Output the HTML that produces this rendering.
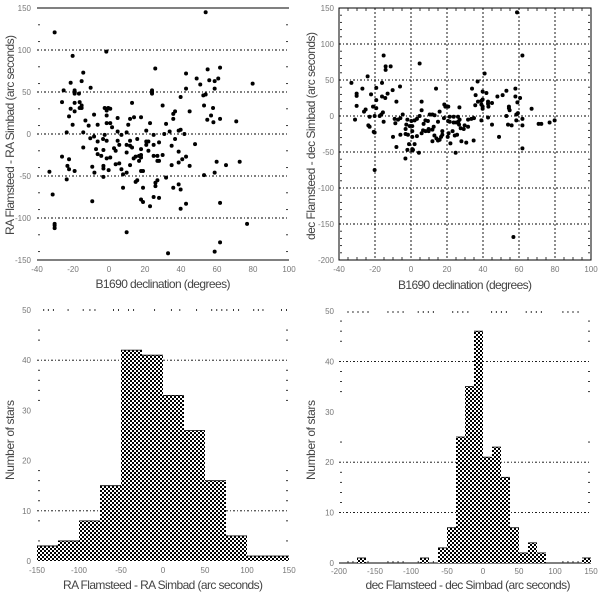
<!DOCTYPE html>
<html lang="en">
<head>
<meta charset="utf-8">
<title>Flamsteed vs Simbad position differences</title>
<style>
html,body{margin:0;padding:0;background:#fff}
svg{display:block}
text{font-family:"Liberation Sans",sans-serif}
.title{font-size:12px;fill:#444}
.tick{font-size:8px;fill:#777}
</style>
</head>
<body>
<svg id="figure" xmlns="http://www.w3.org/2000/svg" width="600" height="593" viewBox="0 0 600 593">
<defs>
<pattern id="dither" width="4" height="4" patternUnits="userSpaceOnUse">
<rect width="4" height="4" fill="#000"/>
<rect x="0" y="0" width="2" height="2" fill="#fff"/>
<rect x="2" y="2" width="2" height="2" fill="#fff"/>
</pattern>
</defs>
<rect width="600" height="593" fill="#fff"/>
<g id="panel-a"></g>
<g id="panel-b"></g>
<g id="panel-c"></g>
<g id="panel-d"></g>
<text class="title" x="163" y="288" text-anchor="middle" textLength="135">B1690 declination (degrees)</text>
<text class="title" transform="translate(14,135) rotate(-90)" text-anchor="middle" textLength="200">RA Flamsteed - RA Simbad (arc seconds)</text>
<text class="title" x="465" y="289" text-anchor="middle" textLength="134">B1690 declination (degrees)</text>
<text class="title" transform="translate(315,136) rotate(-90)" text-anchor="middle" textLength="208">dec Flamsteed - dec Simbad (arc seconds)</text>
<text class="title" x="163" y="589" text-anchor="middle" textLength="200">RA Flamsteed - RA Simbad (arc seconds)</text>
<text class="title" transform="translate(14,440) rotate(-90)" text-anchor="middle" textLength="80">Number of stars</text>
<text class="title" x="468" y="589" text-anchor="middle" textLength="205">dec Flamsteed - dec Simbad (arc seconds)</text>
<text class="title" transform="translate(315,440) rotate(-90)" text-anchor="middle" textLength="80">Number of stars</text>
</svg>
<script>
const raScatter = [[-30.2,121],[53.7,145],[-20.2,93],[-1.5,98],[-14.3,73],[25.7,78],[61.7,79],[54.8,77],[42.8,72],[48.7,66],[55.7,64],[60.7,66],[58.7,63],[50.7,59],[79.8,60],[-21.3,61],[-15.2,63],[-10.2,55],[-25.2,52],[-19.1,52],[-19.1,48],[-16.7,48],[23.9,52],[23.9,50],[23.9,48],[42.8,54],[58.7,54],[53.7,47],[52.4,46],[39.8,44],[-26.1,38],[-19.1,37],[-16.3,38],[-15.2,34],[12.8,37],[-21.3,30],[-19.1,27],[-16.3,31],[-15.2,31],[-2.4,31],[-0.4,31],[0.7,30],[-1.3,28],[29.8,34],[52.8,34],[57.8,31],[36.7,27],[35.7,24],[44.8,27],[-22.2,21],[-8.3,23],[-1.3,22],[4.8,19],[13.9,20],[11.7,18],[17.8,20],[35.7,18],[56.7,22],[61.7,18],[54.6,17],[58,14],[70.7,15],[-13.1,16],[-20.2,11],[-11.3,10],[-6.3,11],[-1.3,13],[0.7,13],[1.7,8],[10.7,11],[22.8,13],[31.7,12],[-23.5,2],[-14.3,2],[4.8,3],[9.8,2],[6.9,-1],[-2.4,-1],[20.7,4],[33.7,3],[38.7,4],[39.8,5],[41.9,0],[30.7,0],[24.8,-1],[-8.3,-3],[-10.4,-5],[-3.3,-6],[-1.3,-8],[-6.3,-9],[4.8,-8],[11.7,-8],[15.7,-6],[36.7,-6],[-14.3,-16],[-7.2,-18],[5.7,-13],[9.8,-13],[11.7,-14],[12.8,-16],[20.7,-13],[21.9,-9],[20.7,-9],[24.8,-13],[27.8,-10],[34.8,-14],[47.8,-12],[-3.1,-19],[2.8,-17],[17.8,-18],[3.7,-20],[9.8,-22],[21.9,-20],[38.7,-21],[-6.3,-24],[-4.3,-26],[-1.3,-29],[0.7,-28],[13.7,-29],[14.8,-27],[16.7,-26],[17.8,-25],[17.8,-28],[24.8,-26],[26.9,-26],[29.8,-25],[-26.1,-27],[-22.2,-30],[40.7,-30],[42.8,-27],[27.8,-32],[26.9,-32],[16.7,-32],[38.7,-34],[59.8,-33],[72.6,-33],[34.8,-37],[44.8,-38],[65,-37],[-23.1,-38],[-22.2,-42],[-19.1,-44],[-9.3,-39],[-3.1,-38],[-3.1,-41],[-0.2,-43],[3.7,-36],[5.7,-35],[6.9,-42],[9.8,-46],[11.7,-37],[17.8,-44],[18.9,-44],[-33.1,-45],[-8.1,-46],[7.8,-48],[58.7,-46],[52.8,-49],[-3.1,-51],[31.7,-52],[-23.5,-54],[15.7,-55],[14.8,-57],[26.9,-55],[25.8,-58],[25.8,-62],[7.8,-64],[18.9,-64],[35.7,-64],[38.7,-60],[39.8,-66],[-31.3,-72],[17.8,-78],[18.9,-81],[24.8,-75],[27.8,-76],[-9.3,-80],[42.8,-83],[61.7,-82],[22.8,-86],[39.8,-89],[-30.2,-107],[-30.2,-109],[-30.2,-112],[76.7,-107],[9.8,-117],[61.7,-129],[32.8,-142],[58.7,-140]];

const decScatter = [[58.9,144],[61.9,84],[-15.2,84],[4.8,73],[-14.1,69],[-14.1,64],[-11.3,69],[40.9,59],[-24.1,55],[37,48],[-33.1,46],[-16.1,46],[-6.1,41],[-19.3,39],[-27,38],[-10.2,36],[13.9,38],[33.9,38],[5.9,20],[-30.2,31],[-30.2,28],[-22.2,30],[-13,31],[-16.1,27],[-14.3,25],[-19.3,22],[-8.1,20],[35.9,29],[39.8,34],[41.9,32],[53,35],[58,38],[48,27],[50.9,29],[58,27],[60.6,25],[59.1,19],[37.2,20],[39.1,21],[39.8,23],[42.8,20],[42.8,17],[45,18],[43,13],[35.7,15],[39.1,16],[39.8,13],[39.8,10],[-30.2,14],[-21.1,13],[-19.3,11],[-25.2,9],[-26.1,6],[5.9,8],[15.9,6],[18.5,16],[19.1,13],[20.7,13],[26.9,12],[54.4,13],[54.4,11],[54.8,8],[67,10],[59.4,4],[-15.6,5],[-16.5,2],[-17.4,0],[-31.1,-5],[-23,-1],[-20.2,0],[-4.6,2],[-5.9,-3],[-9.1,-4],[-7.2,-5],[-8.7,-10],[-2,-5],[0.2,-7],[4.8,0],[3.3,-4],[2,-6],[10.4,2],[11.9,2],[13.1,1],[8,-6],[9.4,-7],[7,-11],[15,-8],[18.3,-3],[21.5,-1],[23.7,-1],[26.1,-1],[27,-5],[53,0],[42.8,-2],[39.1,-6],[31.7,-5],[33.5,-4],[35,-3],[58.5,2],[61.9,-4],[58.5,-6],[72.4,-11],[77,-9],[79.8,-6],[70.9,-11],[45,-12],[53.9,-12],[55.9,-13],[61.9,-13],[-15.2,-8],[-23.7,-13],[-23,-15],[-20.7,-22],[-20.2,-23],[-10,-29],[-5.9,-26],[-2.6,-12],[-0.7,-14],[0.7,-14],[-3,-18],[-3,-25],[-1.7,-26],[0.7,-21],[3.3,-28],[0.7,-29],[6.7,-20],[5.9,-24],[8.1,-21],[9.8,-18],[9.8,-21],[12.6,-15],[11.9,-19],[20.6,-7],[21.5,-8],[23.7,-9],[25.2,-9],[26.3,-8],[26.7,-12],[27.6,-17],[29.8,-13],[31.7,-15],[29.3,-18],[23.1,-21],[20.9,-24],[17.4,-21],[17.4,-26],[16.7,-29],[13,-27],[14.1,-31],[15,-34],[11.9,-35],[15.9,-33],[20.4,-29],[24.3,-27],[25.6,-26],[21.9,-38],[28,-35],[30.7,-37],[34.8,-34],[48.9,-29],[-8.1,-43],[-1.1,-39],[2,-39],[0.7,-46],[61.9,-45],[-2,-47],[0.7,-48],[4.4,-51],[24.8,-51],[-3.1,-59],[1.1,-47],[-20.2,-75],[56.9,-168]];

const raHistStart = -150;
const raHistWidth = 25;
const raHistCounts = [3,4,8,15,42,41,33,26,16,5,1,1];

const decHistStart = -200;
const decHistWidth = 12.5;
const decHistCounts = [0,0,1,0,0,0,0,0,0,1,0,3,7,25,35,46,21,23,17,7,2,4,2,0,0,0,0,1];

const decTicksX = [-40,-20,0,20,40,60,80,100];
const raTicksY = [150,100,50,0,-50,-100,-150];
const decTicksY = [150,100,50,0,-50,-100,-150,-200];
const raHistTicksX = [-150,-100,-50,0,50,100,150];
const decHistTicksX = [-200,-150,-100,-50,0,50,100,150];
const countTicksY = [50,40,30,20,10,0];

const raGridY = [100,50,0,-50,-100];
const raSolidY = [150,-150];
const raMinorY = [130,110,80,60,30,10,-20,-40,-70,-90,-120,-140];
const raHistGridY = [40,10];
const raHistMinorY = [46,44,38,36,34,32,18,16,14,12,8,4];
const raHistMinorX = [-142,-136.5,-130.5,-113,-95,-87,-81,-59,-53,-41,-35,-10,10,20,40,58,64,70,76,84,90,108,113.5,119,141,147];
const decHistGridY = [40,20,10];
const decHistMinorY = [48,46,44,38,36,34,24,18,16,14,12];
const decHistMinorX = [-187.5,-180.6,-173.6,-166.7,-159.7,-132,-125,-118,-111,-90,-83,-76,-69,-42,-35,-28,-21,12,18.5,25.5,32.4,60,67,74,81,111,118,125,132];

const NS = 'http://www.w3.org/2000/svg';
function scale(d0, d1, r0, r1) {
  return function (v) { return r0 + (v - d0) * (r1 - r0) / (d1 - d0); };
}
function shape(tag, parent, attrs) {
  const el = document.createElementNS(NS, tag);
  for (const k in attrs) el.setAttribute(k, attrs[k]);
  parent.appendChild(el);
  return el;
}
function drawGridY(g, values, y, x0, x1) {
  values.forEach(function (v) {
    const el = shape('line', g, {x1: x0, x2: x1, y1: y(v), y2: y(v), stroke: '#000', 'stroke-width': 0.9, 'stroke-dasharray': '2 2 1 2'});
    
    
  });
}
function drawSolidY(g, values, y, x0, x1) {
  values.forEach(function (v) {
    const el = shape('line', g, {x1: x0, x2: x1, y1: y(v), y2: y(v), stroke: '#000', 'stroke-width': 1});
    
    
  });
}
function drawMinorY(g, values, y, x0, x1) {
  values.forEach(function (v) {
    [[x0 + 1, x0 + 3], [x1 - 3, x1 - 1]].forEach(function (p) {
      const el = shape('line', g, {x1: p[0], x2: p[1], y1: y(v), y2: y(v), stroke: '#222', 'stroke-width': 0.9});
      
      
    });
  });
}
function drawMinorX(g, values, x, yPos, len) {
  values.forEach(function (v) {
    const el = shape('line', g, {x1: x(v), x2: x(v), y1: yPos, y2: yPos + len, stroke: '#222', 'stroke-width': 0.9});
    
    
  });
}
function drawLabelsY(g, values, y, xEnd) {
  values.forEach(function (v) {
    const el = shape('text', g, {class: 'tick', x: xEnd, y: y(v) + 3, 'text-anchor': 'end'});
    el.textContent = v;
    
    
  });
}
function drawLabelsX(g, values, x, yPos) {
  values.forEach(function (v) {
    const el = shape('text', g, {class: 'tick', x: x(v), y: yPos, 'text-anchor': 'middle'});
    el.textContent = v;
    
    
  });
}
function drawPoints(g, points, x, y) {
  points.forEach(function (p) {
    const el = shape('circle', g, {cx: x(p[0]), cy: y(p[1]), r: 2, fill: '#000'});
    
    
  });
}
function drawBars(g, counts, start, width, x, y) {
  counts.forEach(function (c, i) {
    if (!c) return;
    const lo = start + i * width;
    const left = x(lo);
    const right = x(lo + width);
    const top = y(c);
    const bar = shape('rect', g, {x: left, y: top, width: right - left, height: y(0) - top, fill: 'url(#dither)'});
    
    
    const cap = shape('line', g, {x1: left, x2: right, y1: top, y2: top, stroke: '#000', 'stroke-width': 0.8});
    
    
  });
}

/* Panel A: RA residuals against declination */
(function () {
  const g = document.getElementById('panel-a');
  const x = scale(-40, 100, 37, 289);
  const y = scale(-150, 150, 260, 8);
  drawGridY(g, raGridY, y, 37, 289);
  drawSolidY(g, raSolidY, y, 37, 289);
  drawMinorY(g, raMinorY, y, 37, 289);
  drawLabelsY(g, raTicksY, y, 31);
  drawLabelsX(g, decTicksX, x, 272);
  drawPoints(g, raScatter, x, y);
})();

/* Panel B: dec residuals against declination */
(function () {
  const g = document.getElementById('panel-b');
  const x = scale(-40, 100, 339, 591);
  const y = scale(-200, 150, 260, 8);
  decTicksX.slice(1, -1).forEach(function (v) {
    const el = shape('line', g, {x1: x(v), x2: x(v), y1: 8, y2: 260, stroke: '#000', 'stroke-width': 0.9, 'stroke-dasharray': '2 2'});
    
    
  });
  drawGridY(g, decTicksY.slice(1, -1), y, 339, 591);
  const box = shape('rect', g, {x: 339, y: 8, width: 252, height: 252, fill: 'none', stroke: '#000', 'stroke-width': 1});
  
  
  const minorY = [];
  for (let v = -190; v < 150; v += 10) if (v % 50) minorY.push(v);
  drawMinorY(g, minorY, y, 339, 591);
  const minorX = [];
  for (let v = -35; v < 100; v += 5) if (v % 20) minorX.push(v);
  drawMinorX(g, minorX, x, 8, 3);
  drawMinorX(g, minorX, x, 257, 3);
  drawLabelsY(g, decTicksY, y, 334);
  drawLabelsX(g, decTicksX, x, 272);
  drawPoints(g, decScatter, x, y);
})();

/* Panel C: RA residual histogram */
(function () {
  const g = document.getElementById('panel-c');
  const x = scale(-150, 150, 37, 289);
  const y = scale(0, 50, 561, 310);
  drawGridY(g, raHistGridY, y, 37, 289);
  drawMinorY(g, raHistMinorY, y, 37, 289);
  drawMinorX(g, raHistMinorX, x, 309, 2);
  drawLabelsY(g, countTicksY, y, 31);
  drawLabelsX(g, raHistTicksX, x, 573);
  drawBars(g, raHistCounts, raHistStart, raHistWidth, x, y);
})();

/* Panel D: dec residual histogram */
(function () {
  const g = document.getElementById('panel-d');
  const x = scale(-200, 150, 339, 591);
  const y = scale(0, 50, 563, 311);
  drawGridY(g, decHistGridY, y, 339, 591);
  drawSolidY(g, [0], y, 339, 591);
  drawMinorY(g, decHistMinorY, y, 339, 591);
  drawMinorX(g, decHistMinorX, x, 311, 2);
  drawMinorX(g, decHistMinorX, x, 561, 2);
  drawLabelsY(g, countTicksY, y, 334);
  drawLabelsX(g, decHistTicksX, x, 574);
  drawBars(g, decHistCounts, decHistStart, decHistWidth, x, y);
})();
</script>
</body>
</html>
